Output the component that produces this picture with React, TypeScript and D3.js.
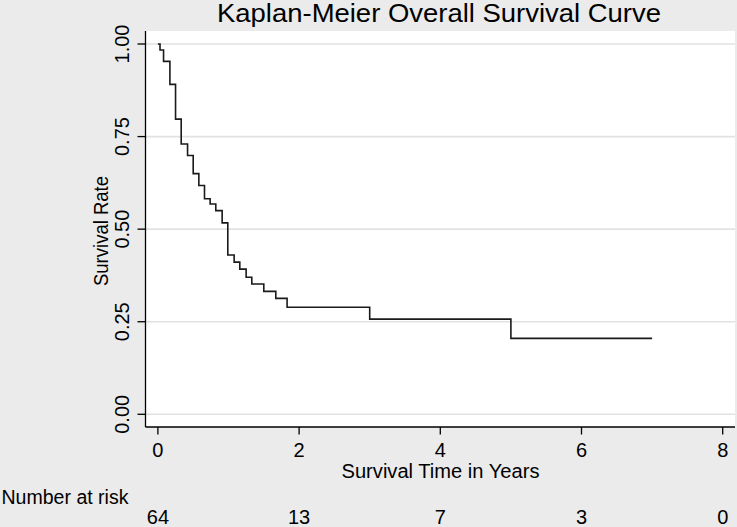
import React from "react";
import * as d3 from "d3";

const stepTimes = [0, 0.03, 0.08, 0.17, 0.25, 0.33, 0.42, 0.5, 0.58, 0.66, 0.74, 0.82, 0.91, 0.99, 1.08, 1.16, 1.25, 1.33, 1.5, 1.67, 1.83, 3.0, 5.0, 7.0];
const survival = [1.0, 0.984, 0.953, 0.891, 0.797, 0.73, 0.699, 0.65, 0.618, 0.582, 0.568, 0.55, 0.517, 0.43, 0.411, 0.392, 0.37, 0.352, 0.332, 0.313, 0.289, 0.257, 0.205, 0.205];
const xTicks = [0, 2, 4, 6, 8];
const yTicks = [0, 0.25, 0.5, 0.75, 1.0];
const atRiskTimes = [0, 2, 4, 6, 8];
const atRisk = [64, 13, 7, 3, 0];

const W = 737;
const H = 527;
const FONT = "'Liberation Sans', Arial, sans-serif";

export default function App() {
  const x = d3.scaleLinear().domain([0, 8]).range([157.9, 722.7]);
  const y = d3.scaleLinear().domain([0, 1]).range([414.3, 44]);
  const pts = stepTimes.map((t, i) => [t, survival[i]] as [number, number]);
  const line = d3
    .line<[number, number]>()
    .x((d) => x(d[0]))
    .y((d) => y(d[1]))
    .curve(d3.curveStepAfter);

  const plotL = 145.5;
  const plotR = 735;
  const plotT = 31;
  const plotB = 427;

  return (
    <svg
      width={W}
      height={H}
      style={{ position: "absolute", left: 0, top: 0, display: "block" }}
      fontFamily={FONT}
    >
      <rect x={0} y={0} width={W} height={H} fill="#ebebeb" />
      <rect x={plotL} y={plotT} width={plotR - plotL} height={plotB - plotT} fill="#ffffff" />
      {yTicks.map((v) => (
        <line key={"g" + v} x1={plotL} x2={plotR} y1={y(v)} y2={y(v)} stroke="#e2e2e2" strokeWidth={1.6} />
      ))}
      <path d={line(pts) || ""} fill="none" stroke="#1a1a1a" strokeWidth={1.6} />
      <line x1={plotL} x2={plotL} y1={plotT} y2={plotB} stroke="#000" strokeWidth={1.3} />
      <line x1={plotL} x2={plotR} y1={plotB} y2={plotB} stroke="#000" strokeWidth={1.3} />
      {yTicks.map((v) => (
        <g key={"yt" + v}>
          <line x1={plotL - 8} x2={plotL} y1={y(v)} y2={y(v)} stroke="#000" strokeWidth={1.3} />
          <text
            transform={`translate(128.5,${y(v)}) rotate(-90)`}
            textAnchor="middle"
            fontSize={20}
            fill="#000"
          >
            {v.toFixed(2)}
          </text>
        </g>
      ))}
      {xTicks.map((v) => (
        <g key={"xt" + v}>
          <line x1={x(v)} x2={x(v)} y1={plotB} y2={plotB + 7.5} stroke="#000" strokeWidth={1.3} />
          <text x={x(v)} y={456.5} textAnchor="middle" fontSize={20} fill="#000">
            {v}
          </text>
        </g>
      ))}
      <text
        transform={`translate(108,231) rotate(-90)`}
        textAnchor="middle"
        fontSize={20}
        textLength={110}
        lengthAdjust="spacingAndGlyphs"
        fill="#000"
      >
        Survival Rate
      </text>
      <text x={440.5} y={477.5} textAnchor="middle" fontSize={20} textLength={198} lengthAdjust="spacingAndGlyphs" fill="#000">
        Survival Time in Years
      </text>
      <text x={439} y={21.7} textAnchor="middle" fontSize={25} textLength={444} lengthAdjust="spacingAndGlyphs" fill="#000">
        Kaplan-Meier Overall Survival Curve
      </text>
      <text x={1.5} y={503.5} fontSize={20} textLength={127} lengthAdjust="spacingAndGlyphs" fill="#000">
        Number at risk
      </text>
      {atRisk.map((n, i) => (
        <text key={"ar" + i} x={x(atRiskTimes[i])} y={523.5} textAnchor="middle" fontSize={20} fill="#000">
          {n}
        </text>
      ))}
    </svg>
  );
}
